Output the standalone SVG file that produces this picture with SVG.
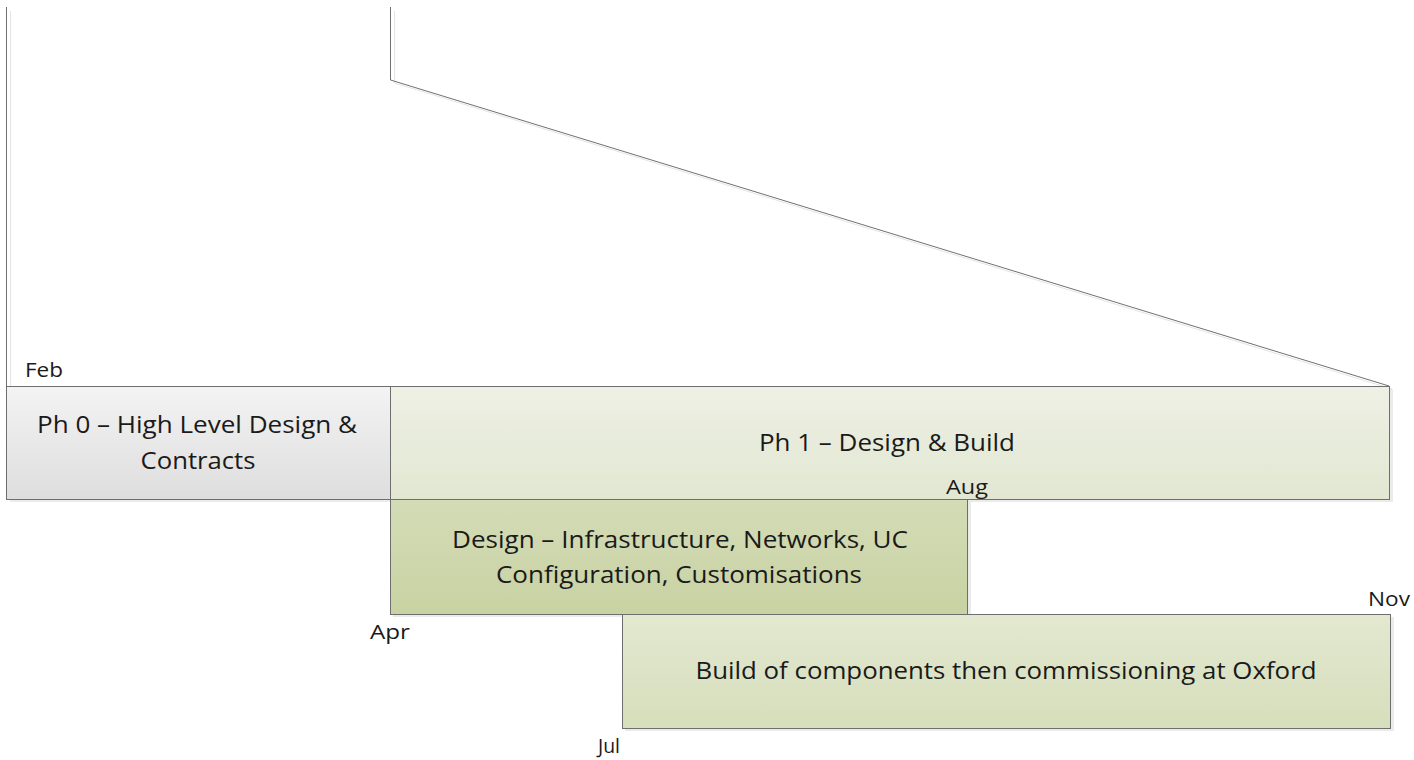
<svg xmlns="http://www.w3.org/2000/svg" width="1414" height="760" viewBox="0 0 1414 760">
<defs>
<linearGradient id="gGray" x1="0" y1="0" x2="0" y2="1"><stop offset="0" stop-color="#f3f3f3"/><stop offset="1" stop-color="#dedede"/></linearGradient>
<linearGradient id="gPale" x1="0" y1="0" x2="0" y2="1"><stop offset="0" stop-color="#eef0e4"/><stop offset="1" stop-color="#e2e7d2"/></linearGradient>
<linearGradient id="gMid" x1="0" y1="0" x2="0" y2="1"><stop offset="0" stop-color="#d4dcb7"/><stop offset="1" stop-color="#c8d2a2"/></linearGradient>
<linearGradient id="gLight" x1="0" y1="0" x2="0" y2="1"><stop offset="0" stop-color="#e3e8d0"/><stop offset="1" stop-color="#d6debb"/></linearGradient>
</defs>
<style>
.box{stroke:#6e6e6e;stroke-width:1}
.sh{fill:#000;opacity:0.08}
.t{font-family:"Open Sans","Liberation Sans",sans-serif;font-size:24px;fill:#1a1a1a;text-anchor:middle}
.lbl{font-family:"Open Sans","Liberation Sans",sans-serif;font-size:20px;fill:#1a1a1a}
.ln{fill:none;stroke:#707070;stroke-width:1}
.lns{fill:none;stroke:#e4e4e4;stroke-width:1}
</style>
<rect width="1414" height="760" fill="#fff"/>
<g id="connectors">
<polyline class="lns" points="10.5,11 10.5,387"/>
<polyline class="lns" points="394.5,11 394.5,83 1392,389"/>
<polyline class="ln" points="6.5,7 6.5,387"/>
<polyline class="ln" points="390.5,7 390.5,80 1389,386"/>
</g>
<g id="ph0">
<rect class="sh" x="10" y="389" width="383" height="113"/>
<rect class="box" x="6.5" y="386.5" width="384" height="113" fill="url(#gGray)"/>
<text class="t" x="197" y="433" textLength="320" lengthAdjust="spacingAndGlyphs">Ph 0 – High Level Design &amp;</text>
<text class="t" x="198" y="469" textLength="115" lengthAdjust="spacingAndGlyphs">Contracts</text>
</g>
<g id="ph1">
<rect class="sh" x="393" y="389" width="1000" height="113"/>
<rect class="box" x="390.5" y="386.5" width="999" height="113" fill="url(#gPale)"/>
<text class="t" x="887" y="451" textLength="256" lengthAdjust="spacingAndGlyphs">Ph 1 – Design &amp; Build</text>
</g>
<g id="design">
<rect class="sh" x="393" y="502" width="578" height="115"/>
<rect class="box" x="390.5" y="499.5" width="577" height="115" fill="url(#gMid)"/>
<text class="t" x="680" y="548" textLength="456" lengthAdjust="spacingAndGlyphs">Design – Infrastructure, Networks, UC</text>
<text class="t" x="679" y="583" textLength="366" lengthAdjust="spacingAndGlyphs">Configuration, Customisations</text>
</g>
<g id="build">
<rect class="sh" x="625" y="617" width="769" height="114"/>
<rect class="box" x="622.5" y="614.5" width="768" height="114" fill="url(#gLight)"/>
<text class="t" x="1006" y="679" textLength="621" lengthAdjust="spacingAndGlyphs">Build of components then commissioning at Oxford</text>
</g>
<g id="labels">
<text class="lbl" x="25" y="377" textLength="38" lengthAdjust="spacingAndGlyphs">Feb</text>
<text class="lbl" x="946" y="494" textLength="42" lengthAdjust="spacingAndGlyphs">Aug</text>
<text class="lbl" x="370" y="639" textLength="40" lengthAdjust="spacingAndGlyphs">Apr</text>
<text class="lbl" x="1368" y="606" textLength="42" lengthAdjust="spacingAndGlyphs">Nov</text>
<text class="lbl" x="598" y="753" textLength="22" lengthAdjust="spacingAndGlyphs">Jul</text>
</g>
</svg>
